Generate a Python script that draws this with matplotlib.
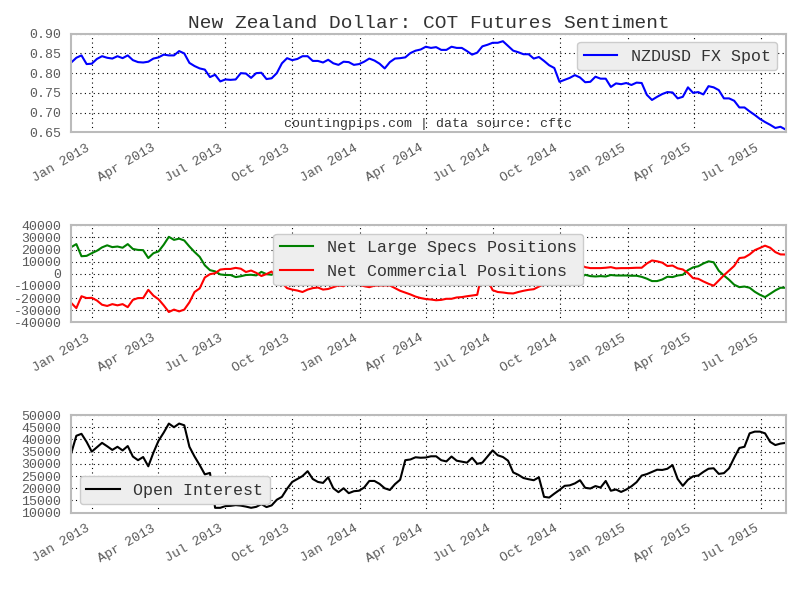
## ############################################################################################# ##
## NZD COT Futures Sentiment chart
## ############################################################################################# ##
import pandas                  as     pd
import matplotlib
matplotlib.use('Agg')
import matplotlib.pyplot       as     plt
import matplotlib.dates        as     mdates
from   matplotlib.ticker       import FormatStrFormatter

## ********************************************************************************************* ##
## Data (weekly, Tuesdays)
## ********************************************************************************************* ##
start_date     = '2012-12-04'

nzdusd         = [0.827, 0.839, 0.845, 0.823, 0.824, 0.836, 0.843, 0.839, 0.837, 0.843,
                  0.838, 0.845, 0.833, 0.828, 0.827, 0.829, 0.837, 0.840, 0.847, 0.845,
                  0.845, 0.856, 0.850, 0.826, 0.818, 0.812, 0.809, 0.790, 0.796, 0.779,
                  0.784, 0.783, 0.784, 0.800, 0.799, 0.788, 0.800, 0.801, 0.785, 0.787,
                  0.800, 0.825, 0.838, 0.833, 0.836, 0.843, 0.843, 0.831, 0.831, 0.827,
                  0.834, 0.825, 0.821, 0.829, 0.828, 0.821, 0.823, 0.829, 0.837, 0.832,
                  0.824, 0.812, 0.828, 0.837, 0.838, 0.840, 0.851, 0.857, 0.860, 0.867,
                  0.864, 0.866, 0.859, 0.859, 0.867, 0.864, 0.864, 0.856, 0.847, 0.852,
                  0.868, 0.872, 0.877, 0.877, 0.881, 0.869, 0.857, 0.853, 0.848, 0.848,
                  0.837, 0.841, 0.831, 0.820, 0.813, 0.778, 0.783, 0.788, 0.795, 0.789,
                  0.777, 0.778, 0.791, 0.786, 0.786, 0.765, 0.774, 0.772, 0.775, 0.770,
                  0.776, 0.775, 0.745, 0.732, 0.740, 0.747, 0.752, 0.751, 0.736, 0.740,
                  0.764, 0.750, 0.752, 0.746, 0.767, 0.764, 0.757, 0.736, 0.736, 0.730,
                  0.713, 0.713, 0.703, 0.694, 0.684, 0.676, 0.669, 0.661, 0.664, 0.657]

large_specs    = [22000, 24500, 14500, 14800, 17000, 19000, 21800, 23500, 22000, 22500,
                  21500, 24500, 20500, 19700, 19500, 13000, 17000, 18500, 24000, 30500,
                  28000, 29000, 27500, 22500, 18000, 14000,  7000,  3000,  2000,  -500,
                  -1000, -1000, -2700, -2000, -1000,  -800, -1300,  1600,  -300,  -800,
                   1500,  5500,  9500, 11000, 11800, 13000, 11500, 10000,  9500, 11000,
                  10500,  9000,  7800,  8200,  5800,  6000,  7200,  8300,  9000,  8000,
                   7800,  7700,  7800,  9800, 12000, 13500, 15000, 16800, 18000, 18900,
                  19200, 19800, 19600, 18800, 18800, 17800, 17500, 16800, 16200, 15600,
                  -2000,  3500, 12000, 13500, 14000, 14500, 14800, 13600, 12400, 11500,
                  10800,  9500,  7500,  4800,  2000,  -800, -2500, -3500, -4000, -3600,
                   -800, -1900, -2200, -1900, -2200, -1000, -1400, -1400, -1400, -1600,
                  -1600, -2500, -4000, -6000, -6000, -4700, -2400, -2700, -1400,  -800,
                   3000,  5300,  6200,  8500, 10300,  9500,  2500, -1400, -4900, -9000,
                 -11000,-10500,-11500,-14800,-17300,-19200,-16500,-13700,-11500,-11500]

commercial     = [-24000,-28300,-18500,-20000,-19800,-22000,-25500,-26500,-25000,-26000,
                  -25000,-27500,-21500,-20000,-20000,-13200,-18000,-21000,-26000,-31500,
                  -29500,-31000,-29500,-23500,-15000,-12000, -3000,  -300,   500,  3500,
                    4000,  4000,  4900,  4200,  1500,  2700,   800, -1800,  -200,  1900,
                   -3000, -7500,-11800,-13000,-13800,-15000,-13000,-11800,-11300,-13000,
                  -12500,-11000, -9600,-10200, -7500, -7800, -9000,-10200,-11000, -9800,
                   -9600, -9600, -9600,-11800,-14000,-15500,-17000,-18800,-20000,-20800,
                  -21200,-21800,-21500,-20600,-20600,-19500,-19200,-18500,-17900,-17300,
                    2000, -5000,-13500,-15000,-15400,-16000,-16200,-15000,-14000,-13200,
                  -12700,-10500, -8500, -6000, -3000,     0,  2000,  4000,  6000,  7400,
                    5500,  4700,  4700,  4700,  5000,  5500,  4500,  4700,  4700,  4800,
                    5000,  5000,  8500, 11000, 10300,  9200,  6400,  6800,  4500,  3600,
                     700, -3600, -4100, -6300, -8200, -9800, -5500, -1200,  2700,  6500,
                   13000, 13500, 16000, 19500, 21300, 23200, 21500, 17900, 16000, 15900]

open_interest  = [34300, 41500, 42300, 39000, 35000, 36800, 38600, 37200, 35700, 37000,
                  35500, 37300, 33000, 31500, 32800, 29000, 34600, 39500, 42800, 46500,
                  45000, 46500, 45800, 37000, 33000, 29500, 25700, 26300, 12000, 12000,
                  12700, 12800, 13100, 12900, 12500, 12000, 12400, 13500, 12300, 13000,
                  15300, 16500, 19800, 22600, 23800, 25000, 27000, 23800, 22600, 22200,
                  24500, 20000, 18400, 20000, 18000, 18800, 19000, 20300, 23000, 23000,
                  21800, 20000, 19300, 21700, 23500, 31500, 31800, 32700, 32500, 32600,
                  33100, 33100, 31500, 31000, 33000, 31300, 30900, 30500, 32500, 30000,
                  30500, 33000, 35500, 33500, 32800, 31300, 26500, 25500, 24200, 23700,
                  23300, 24500, 16500, 16200, 17800, 19300, 21000, 21200, 22000, 23300,
                  20200, 19900, 20900, 20300, 23000, 19000, 19500, 18500, 19500, 20800,
                  22500, 25200, 25800, 26700, 27600, 27500, 28000, 29500, 23800, 21000,
                  23500, 24900, 25200, 26700, 28000, 28200, 25900, 26200, 28200, 32500,
                  36500, 37000, 42500, 43200, 43200, 42500, 39000, 37700, 38300, 38600]

dates          = pd.date_range(start_date, periods=len(nzdusd), freq='7D')

## ********************************************************************************************* ##
## Style
## ********************************************************************************************* ##
plt.rcParams['font.family'] = ['Liberation Mono', 'DejaVu Sans Mono']
TICKCOL        = '#5a5a5a'
SPINECOL       = '#bbbbbb'

def style_axis(ax, ylo, yhi, ystep, yfmt):
    ax.set_xlim(dates[0], dates[-1])
    ax.set_ylim(ylo, yhi)
    ax.set_yticks([ylo + k*ystep for k in range(int(round((yhi-ylo)/ystep))+1)])
    ax.yaxis.set_major_formatter(FormatStrFormatter(yfmt))
    ax.xaxis.set_major_locator(mdates.MonthLocator(bymonth=[1, 4, 7, 10]))
    ax.xaxis.set_major_formatter(mdates.DateFormatter('%b %Y'))
    ax.grid(True, color='black', linestyle=(0, (1, 3)), linewidth=0.8)
    ax.tick_params(length=0, pad=7, colors=TICKCOL, labelsize=9.5)
    for lbl in ax.get_xticklabels():
        lbl.set_rotation(30)
        lbl.set_ha('right')
    for sp in ax.spines.values():
        sp.set_color(SPINECOL)
        sp.set_linewidth(1.5)

def style_legend(ax, loc):
    leg = ax.legend(loc=loc, fontsize=12, framealpha=1, fancybox=True)
    leg.get_frame().set_facecolor('#eeeeee')
    leg.get_frame().set_edgecolor('#cccccc')
    for t in leg.get_texts():
        t.set_color('#333333')

## ********************************************************************************************* ##
## Plots
## ********************************************************************************************* ##
fig            = plt.figure(figsize=(8, 6), dpi=100)
ax1            = fig.add_axes([0.089, 0.7795, 0.893, 0.1643])
ax2            = fig.add_axes([0.089, 0.4628, 0.893, 0.1617])
ax3            = fig.add_axes([0.089, 0.1455, 0.893, 0.1628])

ax1.plot(dates, nzdusd, color='blue', linewidth=1.5, label='NZDUSD FX Spot')
style_axis(ax1, 0.65, 0.90, 0.05, '%.2f')
style_legend(ax1, 'upper right')
ax1.set_title('New Zealand Dollar: COT Futures Sentiment', fontsize=14, color='#333333', pad=4)
ax1.text(0.5, 0.08, 'countingpips.com | data source: cftc', transform=ax1.transAxes,
         ha='center', va='center', fontsize=9.5, color='#333333')

ax2.plot(dates, large_specs, color='green', linewidth=1.5, label='Net Large Specs Positions')
ax2.plot(dates, commercial, color='red', linewidth=1.5, label='Net Commercial Positions')
style_axis(ax2, -40000, 40000, 10000, '%d')
style_legend(ax2, 'upper center')

ax3.plot(dates, open_interest, color='black', linewidth=1.5, label='Open Interest')
style_axis(ax3, 10000, 50000, 5000, '%d')
style_legend(ax3, 'lower left')

fig.savefig('out.png', dpi=100)
